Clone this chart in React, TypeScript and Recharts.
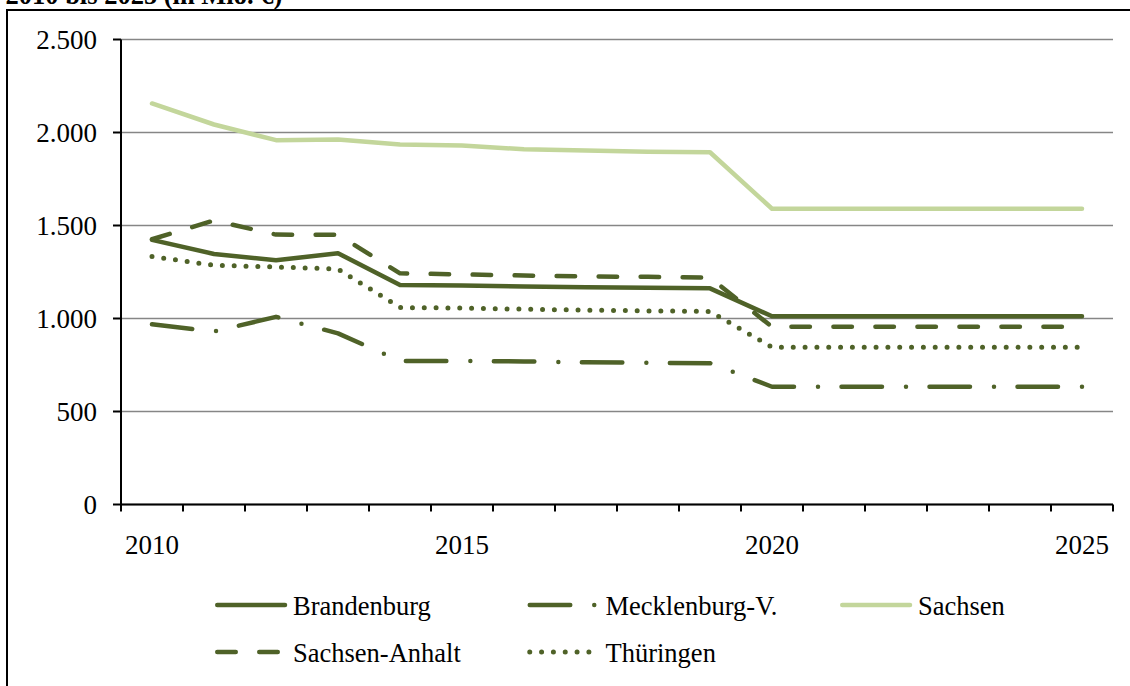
import React from 'react';
import { LineChart, Line, XAxis, YAxis, CartesianGrid } from 'recharts';

const YEARS = [2010, 2011, 2012, 2013, 2014, 2015, 2016, 2017, 2018, 2019, 2020, 2021, 2022, 2023, 2024, 2025];
const LABEL_YEARS = [2010, 2015, 2020, 2025];
const Y_TICKS = [0, 500, 1000, 1500, 2000, 2500];

const BRANDENBURG = [1423, 1347, 1313, 1351, 1180, 1178, 1172, 1168, 1165, 1162, 1012, 1012, 1012, 1012, 1012, 1012];
const MECKLENBURG = [969, 930, 1009, 920, 772, 772, 769, 765, 762, 760, 633, 633, 633, 633, 633, 633];
const SACHSEN = [2156, 2043, 1959, 1962, 1935, 1930, 1910, 1903, 1896, 1894, 1590, 1590, 1590, 1590, 1590, 1590];
const SACHSEN_ANHALT = [1426, 1527, 1451, 1450, 1243, 1237, 1231, 1226, 1224, 1220, 955, 955, 955, 955, 955, 955];
const THUERINGEN = [1333, 1286, 1277, 1266, 1059, 1056, 1050, 1045, 1041, 1038, 846, 846, 846, 846, 846, 846];

const DARK = '#4f6228';
const LIGHT = '#c3d69b';
const FONT = '"Liberation Serif", "Times New Roman", serif';

const SERIES = [
  { key: 'bb', name: 'Brandenburg', values: BRANDENBURG, color: DARK, width: 4.5, dash: undefined },
  { key: 'mv', name: 'Mecklenburg-V.', values: MECKLENBURG, color: DARK, width: 4.5, dash: '40.5 24 0 23.5' },
  { key: 'sn', name: 'Sachsen', values: SACHSEN, color: LIGHT, width: 4.5, dash: undefined },
  { key: 'st', name: 'Sachsen-Anhalt', values: SACHSEN_ANHALT, color: DARK, width: 4.5, dash: '18.5 23.5' },
  { key: 'th', name: 'Thüringen', values: THUERINGEN, color: DARK, width: 5, dash: '0 11.83' },
];

const rows = YEARS.map((year, i) => {
  const row: Record<string, number> = { year };
  SERIES.forEach(s => { row[s.key] = s.values[i]; });
  return row;
});

// tick marks sit between the years, labels only every 5th year
const BOUNDS = [...YEARS.map(y => y - 0.5), YEARS[YEARS.length - 1] + 0.5];
const X_TICKS = [...BOUNDS, ...LABEL_YEARS].sort((a, b) => a - b);

const fmt = (v: number) => (v >= 1000 ? `${Math.floor(v / 1000)}.${String(v % 1000).padStart(3, '0')}` : String(v));

const XTick = (props: any) => {
  const { x, y, payload } = props;
  const v = payload.value;
  if (LABEL_YEARS.includes(v)) {
    return (
      <text x={x} y={y + 49.5} textAnchor="middle" fill="#000" fontSize={27} fontFamily={FONT}>
        {v}
      </text>
    );
  }
  return <line x1={x} x2={x} y1={y} y2={y + 7} stroke="#000" strokeWidth={2} />;
};

const ChartLegend = () => (
  <svg width={1130} height={686} style={{ position: 'absolute', left: 0, top: 0, pointerEvents: 'none' }}>
    {SERIES.map((s, i) => {
      const x = 215 + (i % 3) * 312.5;
      const y = 605 + Math.floor(i / 3) * 47;
      return (
        <g key={s.key}>
          <line x1={x + 2.25} x2={x + 70} y1={y} y2={y} stroke={s.color} strokeWidth={s.width}
            strokeDasharray={s.dash} strokeLinecap="round" />
          <text x={x + 78} y={y + 10} fontSize={26.5} fontFamily={FONT} fill="#000">{s.name}</text>
        </g>
      );
    })}
  </svg>
);

export default function App() {
  return (
    <div style={{ position: 'fixed', left: 0, top: 0, width: 1130, height: 686, overflow: 'hidden', background: '#fff' }}>
      <div style={{ position: 'absolute', left: 6, top: 9, width: 1200, height: 800, borderLeft: '2.5px solid #000', borderTop: '2.5px solid #000' }} />
      <svg width={1130} height={20} style={{ position: 'absolute', left: 0, top: 0 }}>
        <text x={5.5} y={4} fontSize={26.5} fontWeight="bold" fontFamily={FONT} fill="#000">2010 bis 2025 (in Mio. €)</text>
      </svg>
      <div style={{ position: 'absolute', left: 0, top: 0 }}>
        <LineChart width={1130} height={686} data={rows} margin={{ top: 39.5, right: 17, bottom: 121.5, left: 61 }}>
          <CartesianGrid vertical={false} stroke="#868686" strokeWidth={1.5} />
          <XAxis
            dataKey="year"
            type="number"
            domain={[BOUNDS[0], BOUNDS[BOUNDS.length - 1]]}
            ticks={X_TICKS}
            interval={0}
            height={60}
            tickSize={0}
            tickMargin={0}
            tickLine={false}
            axisLine={{ stroke: '#000', strokeWidth: 2 }}
            tick={<XTick />}
          />
          <YAxis
            domain={[0, 2500]}
            ticks={Y_TICKS}
            width={60}
            tickSize={8}
            tickMargin={16}
            tickFormatter={fmt}
            axisLine={{ stroke: '#000', strokeWidth: 2 }}
            tickLine={{ stroke: '#000', strokeWidth: 2 }}
            tick={{ fill: '#000', fontSize: 27, fontFamily: FONT }}
          />
          {SERIES.map(s => (
            <Line
              key={s.key}
              dataKey={s.key}
              name={s.name}
              type="linear"
              stroke={s.color}
              strokeWidth={s.width}
              strokeDasharray={s.dash}
              strokeLinecap="round"
              strokeLinejoin="round"
              dot={false}
              activeDot={false}
              isAnimationActive={false}
            />
          ))}
        </LineChart>
      </div>
      <ChartLegend />
    </div>
  );
}
